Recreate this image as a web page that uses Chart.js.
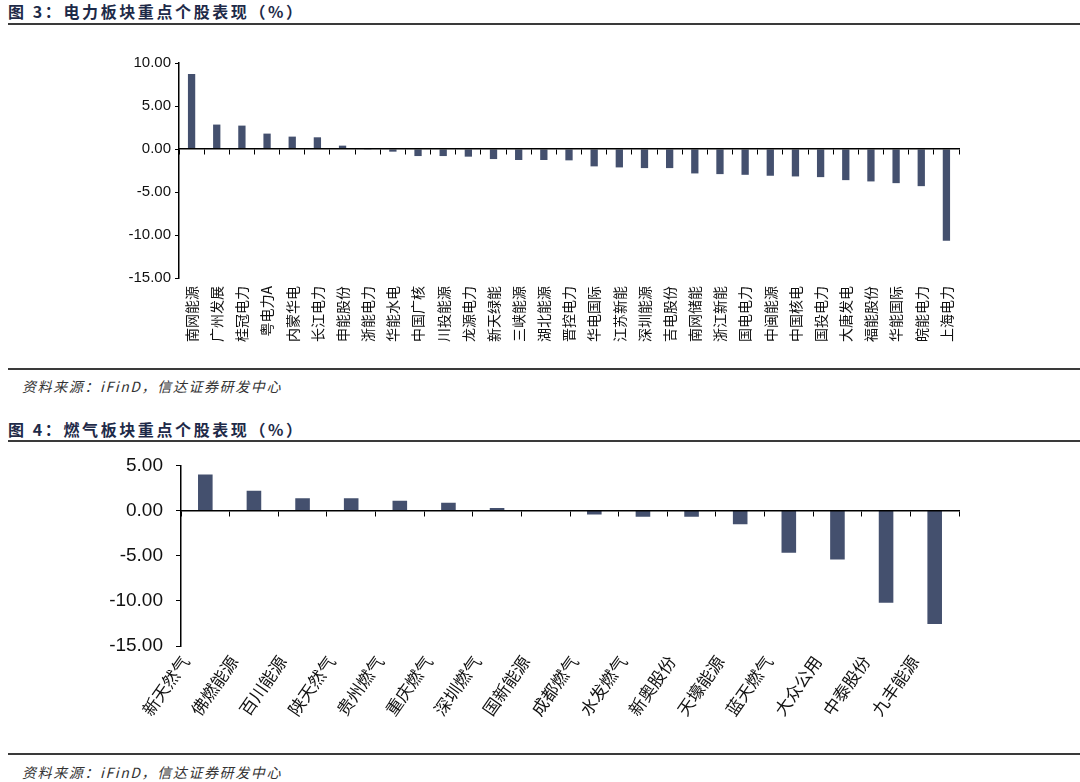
<!DOCTYPE html>
<html>
<head>
<meta charset="utf-8">
<script src="https://cdn.jsdelivr.net/npm/chart.js@4.4.0/dist/chart.umd.min.js"></script>
<style>
body{margin:0;background:#fff;width:1080px;height:782px;position:relative;overflow:hidden;font-family:"Noto Sans CJK SC",sans-serif;}
.title{position:absolute;left:8px;font-size:16px;font-weight:bold;color:#1e2a48;letter-spacing:2.6px;line-height:20px;white-space:nowrap;}
.rule{position:absolute;left:8px;right:0;height:2px;background:#3a3a3a;}
.src{position:absolute;left:22px;font-size:14px;font-style:italic;color:#333;letter-spacing:1.6px;line-height:18px;white-space:nowrap;}
.box{position:absolute;left:0;width:1080px;}
</style>
</head>
<body>
<div class="title" style="top:1px">图 3：电力板块重点个股表现（%）</div>
<div class="rule" style="top:23px"></div>
<div class="box" style="top:40px;height:320px"><canvas id="power_chart"></canvas></div>
<div class="rule" style="top:368px;height:1.5px"></div>
<div class="src" style="top:377px">资料来源：iFinD，信达证券研发中心</div>

<div class="title" style="top:419px">图 4：燃气板块重点个股表现（%）</div>
<div class="rule" style="top:440px"></div>
<div class="box" style="top:441px;height:309px"><canvas id="gas_chart"></canvas></div>
<div class="rule" style="top:753px;height:1.5px"></div>
<div class="src" style="top:763px">资料来源：iFinD，信达证券研发中心</div>

<script>
// 电力板块
const powerNames = ['南网能源','广州发展','桂冠电力','粤电力A','内蒙华电','长江电力','申能股份','浙能电力','华能水电','中国广核',
    '川投能源','龙源电力','新天绿能','三峡能源','湖北能源','晋控电力','华电国际','江苏新能','深圳能源','吉电股份',
    '南网储能','浙江新能','国电电力','中闽能源','中国核电','国投电力','大唐发电','福能股份','华能国际','皖能电力','上海电力']
const powerValues = [8.72,2.84,2.72,1.79,1.44,1.36,0.39,-0.03,-0.31,-0.82,
    -0.82,-0.89,-1.17,-1.28,-1.28,-1.32,-2.02,-2.14,-2.22,-2.22,
    -2.84,-2.92,-3.00,-3.11,-3.19,-3.27,-3.62,-3.77,-3.97,-4.32,-10.66]
const powerYMin = -15
const powerYMax = 10

// 燃气板块
const gasNames = ['新天然气','佛燃能源','百川能源','陕天然气','贵州燃气','重庆燃气','深圳燃气','国新能源',
    '成都燃气','水发燃气','新奥股份','天壕能源','蓝天燃气','大众公用','中泰股份','九丰能源']
const gasValues = [4.00,2.19,1.35,1.35,1.09,0.87,0.29,0.00,
    -0.44,-0.69,-0.69,-1.53,-4.66,-5.43,-10.20,-12.57]
const gasYMin = -15
const gasYMax = 5

const yStep = 5
const barColor = '#44506e'

function bar_chart(canvas_id, names, values, ymin, ymax, opt){
    const ctx = document.getElementById(canvas_id).getContext('2d');
    return new Chart(ctx, {
        type: 'bar',
        data: {
            labels: names,
            datasets: [{
                data: values,
                backgroundColor: barColor,
                borderWidth: 0,
                categoryPercentage: 1,
                barPercentage: opt.barPct,
                xAxisID: 'x',
                yAxisID: 'y'
            }]
        },
        options: {
            responsive: true,
            maintainAspectRatio: false,
            animation: false,
            layout: {padding: {top: opt.padTop, right: opt.padRight, left: 0, bottom: 0}},
            plugins: {legend: {display: false}, tooltip: {enabled: false}},
            scales: {
                x: {
                    type: 'category',
                    position: 'bottom',
                    offset: true,
                    grid: {display: false, drawTicks: false},
                    border: {display: false},
                    ticks: {
                        autoSkip: false,
                        minRotation: opt.rot,
                        maxRotation: opt.rot,
                        padding: opt.xPad,
                        labelOffset: opt.xLabelOffset,
                        color: '#111',
                        font: {family: 'Noto Sans CJK SC', size: opt.xFont}
                    },
                    afterFit: s => { s.height = opt.xHeight }
                },
                // zero line with the category ticks
                x0: {
                    type: 'category',
                    position: {y: 0},
                    offset: true,
                    grid: {drawOnChartArea: false, offset: true, tickLength: 5, color: '#000', lineWidth: 1},
                    border: {color: '#000', width: 1.5, z: 1},
                    ticks: {display: false}
                },
                y: {
                    type: 'linear',
                    position: 'left',
                    min: ymin,
                    max: ymax,
                    grid: {drawOnChartArea: false, tickLength: opt.yTick, color: '#000', lineWidth: 1},
                    border: {color: '#000', width: 1.5},
                    ticks: {
                        stepSize: yStep,
                        padding: opt.yPad,
                        color: '#111',
                        font: {family: 'Liberation Sans', size: opt.yFont},
                        callback: v => v.toFixed(2)
                    },
                    afterFit: s => { s.width = opt.yWidth }
                }
            }
        }
    });
}

bar_chart('power_chart', powerNames, powerValues, powerYMin, powerYMax, {
    barPct: 0.29, padTop: 23, padRight: 121, rot: 90, xPad: 8, xLabelOffset: 0,
    xFont: 14, xHeight: 82, yTick: 4, yPad: 4, yFont: 15, yWidth: 179
})

bar_chart('gas_chart', gasNames, gasValues, gasYMin, gasYMax, {
    barPct: 0.30, padTop: 12, padRight: 121, rot: 55, xPad: 6, xLabelOffset: -20,
    xFont: 17, xHeight: 104, yTick: 5, yPad: 13, yFont: 19, yWidth: 181
})
</script>
</body>
</html>
